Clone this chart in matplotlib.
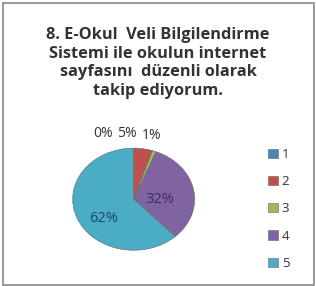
import matplotlib.pyplot as plt
from matplotlib.patches import Rectangle

title = "8. E-Okul  Veli Bilgilendirme\nSistemi ile okulun internet\nsayfasını  düzenli olarak\ntakip ediyorum."
categories = ["1", "2", "3", "4", "5"]
values = [0, 5, 1, 32, 62]
colors = ["#4F81BD", "#C0504D", "#9BBB59", "#8064A2", "#4BACC6"]

fig = plt.figure(figsize=(3.16, 2.86), dpi=100)
fig.patches.append(Rectangle((0.01, 0.005), 0.985, 0.985, transform=fig.transFigure,
                             fill=False, edgecolor="#888888", linewidth=1.2))

fig.text(0.5, 0.905, title, ha="center", va="top", fontsize=11.8,
         fontweight="bold", family="Open Sans", color="#333333", linespacing=1.22)

ax = fig.add_axes([0.23, 0.125, 0.386, 0.357])
wedges, _ = ax.pie(values, colors=colors, startangle=90, counterclock=False,
                   wedgeprops=dict(edgecolor="#666666", linewidth=0.4))
ax.set_aspect("auto")
ax.set_xlim(-1, 1)
ax.set_ylim(-1, 1)

# percentage labels
ax.text(-0.51, 1.28, "0%", ha="center", va="center", fontsize=10, color="#333333", family="Open Sans")
ax.text(-0.11, 1.28, "5%", ha="center", va="center", fontsize=10, color="#333333", family="Open Sans")
ax.text(0.29, 1.24, "1%", ha="center", va="center", fontsize=10, color="#333333", family="Open Sans")
ax.text(0.42, 0.0, "32%", ha="center", va="center", fontsize=10.5, color="#3a2a6a", family="Open Sans")
ax.text(-0.5, -0.38, "62%", ha="center", va="center", fontsize=10.5, color="#1a4a6a", family="Open Sans")

leg = fig.legend(wedges, categories, loc="center left", bbox_to_anchor=(0.812, 0.27),
                 frameon=False, handlelength=0.7, handleheight=0.7,
                 handletextpad=0.3, labelspacing=1.08, prop=dict(family="Open Sans", size=9.5))
for t in leg.get_texts():
    t.set_color("#333333")

fig.savefig("out.png", dpi=100)
